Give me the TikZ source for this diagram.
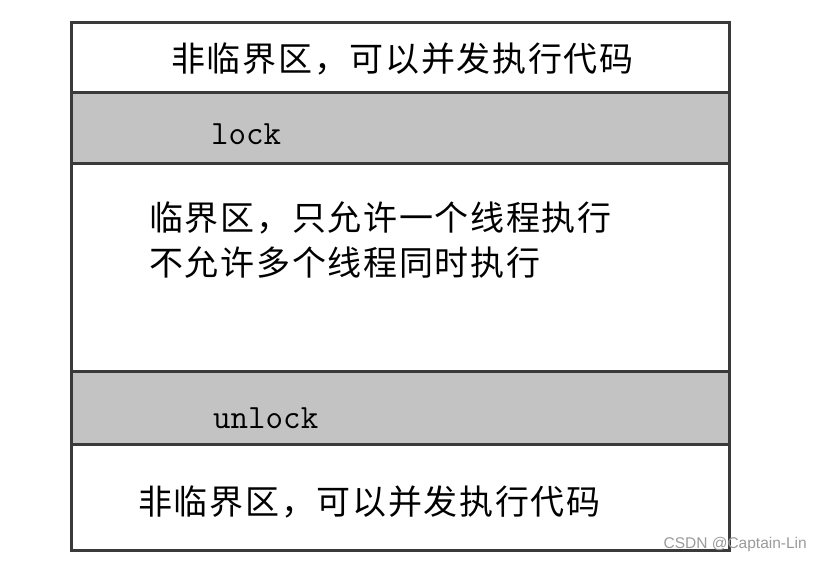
\documentclass[tikz,border=0pt]{standalone}
\usepackage{xcolor}
\usepackage{fontspec}
\newfontfamily\cjk[LetterSpace=5]{Noto Sans CJK SC}
\newfontfamily\markfont{Liberation Sans}
\usepackage{tikz}
\usetikzlibrary{positioning}
\definecolor{bandgray}{HTML}{C3C3C3}
\definecolor{edgegray}{HTML}{3A3A3A}
\definecolor{markgray}{HTML}{9A9A9A}
\tikzstyle{band} = [draw = edgegray, line width = 2.5pt, inner sep = 0, minimum width = 658pt, anchor = north west]
\tikzstyle{cjktext} = [draw = none, inner sep = 0, anchor = west, font = \cjk\fontsize{34}{46}\selectfont]
\tikzstyle{codetext} = [draw = none, inner sep = 0, anchor = base west, font = \ttfamily\fontsize{34}{40}\selectfont]

\begin{document}
\begin{tikzpicture}[x=1pt, y=-1pt]
\useasboundingbox (0,0) rectangle (821,560);
% bands, top to bottom
\node [band, minimum height = 70pt] (free1) at (70, 21) {};
\node [band, fill = bandgray, minimum height = 71pt] (lock) at (70, 91) {};
\node [band, minimum height = 208pt] (crit) at (70, 162) {};
\node [band, fill = bandgray, minimum height = 73pt] (unlock) at (70, 370) {};
\node [band, minimum height = 106pt] (free2) at (70, 443) {};
% texts
\node [cjktext] (t1) at (171, 59) {非临界区，可以并发执行代码};
\node [codetext] (tlock) at (211, 144) {lock};
\node [cjktext] (t2) at (149, 218) {临界区，只允许一个线程执行};
\node [cjktext, below = 12pt of t2.south west, anchor = north west] (t3) {不允许多个线程同时执行};
\node [codetext] (tunlock) at (213, 428) {unlock};
\node [cjktext] (t4) at (138, 502) {非临界区，可以并发执行代码};
\node [draw = none, inner sep = 0, anchor = base east, text = markgray, font = \markfont\fontsize{15.5}{18}\selectfont] (mark) at (807, 548) {CSDN @Captain-Lin};
\end{tikzpicture}
\end{document}
